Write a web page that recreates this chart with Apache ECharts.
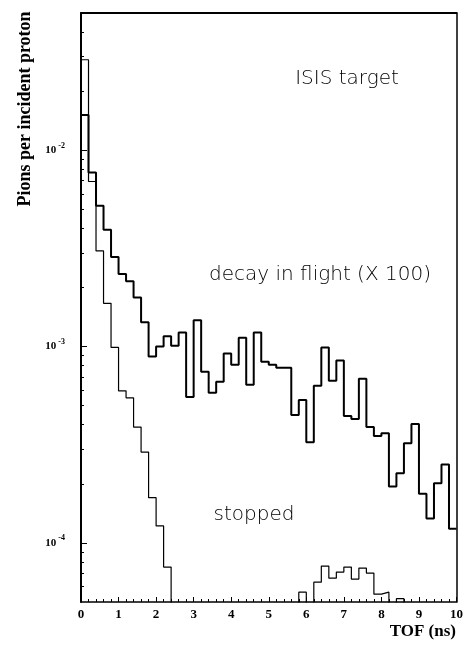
<!DOCTYPE html>
<html>
<head>
<meta charset="utf-8">
<script src="https://cdn.jsdelivr.net/npm/echarts@6/dist/echarts.min.js"></script>
<style>
  html, body { margin: 0; background: #fff; }
  #chart { width: 466px; height: 648px; }
</style>
</head>
<body>
<div id="chart"></div>
<script>
// TOF histogram, bins of 0.2 ns (left edges)
var binStart = [0, 0.2, 0.4, 0.6, 0.8, 1.0, 1.2, 1.4, 1.6, 1.8,
  2.0, 2.2, 2.4, 2.6, 2.8, 3.0, 3.2, 3.4, 3.6, 3.8,
  4.0, 4.2, 4.4, 4.6, 4.8, 5.0, 5.2, 5.4, 5.6, 5.8,
  6.0, 6.2, 6.4, 6.6, 6.8, 7.0, 7.2, 7.4, 7.6, 7.8,
  8.0, 8.2, 8.4, 8.6, 8.8, 9.0, 9.2, 9.4, 9.6, 9.8];
var tofEnd = 10;

// decay in flight (X 100)
var decayInFlight = [0.0151, 0.00771, 0.00522, 0.00394, 0.00286, 0.00234, 0.00215, 0.00178, 0.00133, 0.000889,
  0.00100, 0.00113, 0.00101, 0.00118, 0.000554, 0.00136, 0.000744, 0.000581, 0.000661, 0.000921,
  0.000809, 0.00111, 0.000639, 0.00118, 0.000838, 0.000809, 0.000781, 0.000781, 0.000448, 0.000535,
  0.000326, 0.000631, 0.000988, 0.000669, 0.000848, 0.000443, 0.000427, 0.000685, 0.000389, 0.000350,
  0.000362, 0.000194, 0.000226, 0.000322, 0.000403, 0.000178, 0.000133, 0.000201, 0.000251, 0.000118];

// stopped (0 = empty bin)
var stopped = [0.0289, 0.00693, 0.00307, 0.00166, 0.00099, 0.000595, 0.000548, 0.000389, 0.000290, 0.000170,
  0.000122, 0.0000753, 0, 0, 0, 0, 0, 0, 0, 0,
  0, 0, 0, 0, 0, 0, 0, 0, 0, 0.0000561,
  0, 0.0000631, 0.0000762, 0.0000661, 0.0000710, 0.0000753, 0.0000654, 0.0000744, 0.0000702, 0.0000548,
  0.0000561, 0, 0.000052, 0, 0, 0, 0, 0, 0, 0];

var yMin = 5e-5, yMax = 5e-2;
var majorTicks = [1e-4, 1e-3, 1e-2];
var minorTicks = [6e-5, 7e-5, 8e-5, 9e-5,
  2e-4, 3e-4, 4e-4, 5e-4, 6e-4, 7e-4, 8e-4, 9e-4,
  2e-3, 3e-3, 4e-3, 5e-3, 6e-3, 7e-3, 8e-3, 9e-3,
  2e-2, 3e-2, 4e-2];

var SERIF = '"Liberation Serif", "DejaVu Serif", serif';
var SANS = '"DejaVu Sans", sans-serif';

// step data in log10 space, empty bins pushed below the plot
function histData(vals) {
  var out = binStart.map(function (x, i) {
    return [x, Math.log10(Math.max(vals[i], 1e-6))];
  });
  out.push([tofEnd, out[out.length - 1][1]]);
  return out;
}

function note(text, x, y) {
  return {
    type: 'text', x: x, y: y,
    style: { text: text, fontFamily: SANS, fontWeight: 200, fontSize: 20,
      fill: '#000', align: 'center', verticalAlign: 'middle' }
  };
}

var chart = echarts.init(document.getElementById('chart'));

var option = {
  animation: false,
  grid: { left: 81, right: 6, top: 13, bottom: 46 },
  xAxis: [
    {
      type: 'value', min: 0, max: 10, interval: 1,
      axisLine: { lineStyle: { color: '#000', width: 1.5 } },
      axisTick: { inside: true, length: 5, lineStyle: { color: '#000' } },
      minorTick: { show: true, splitNumber: 5, length: 3, lineStyle: { color: '#000' } },
      splitLine: { show: false },
      axisLabel: { margin: 6, color: '#000', fontFamily: SERIF, fontWeight: 'bold', fontSize: 13 }
    },
    {
      type: 'value', min: 0, max: 10, position: 'top',
      axisLine: { show: true, lineStyle: { color: '#000', width: 2 } },
      axisTick: { show: false }, axisLabel: { show: false }, splitLine: { show: false }
    }
  ],
  yAxis: [
    {
      type: 'value', min: Math.log10(yMin), max: Math.log10(yMax),
      axisLine: { show: true, lineStyle: { color: '#000', width: 2 } },
      axisTick: { inside: true, length: 6, customValues: majorTicks.map(Math.log10), lineStyle: { color: '#000' } },
      axisLabel: {
        customValues: majorTicks.map(Math.log10),
        margin: 16,
        formatter: function (v) { return '{b|10}{s|' + Math.round(v) + '}'; },
        rich: {
          b: { fontFamily: SERIF, fontWeight: 'bold', fontSize: 11, color: '#000' },
          s: { fontFamily: SERIF, fontWeight: 'bold', fontSize: 8, color: '#000', padding: [0, 0, 9, 2] }
        }
      },
      splitLine: { show: false }
    },
    {
      type: 'value', min: Math.log10(yMin), max: Math.log10(yMax), position: 'left',
      axisLine: { show: false },
      axisTick: { inside: true, length: 3, customValues: minorTicks.map(Math.log10), lineStyle: { color: '#000' } },
      axisLabel: { show: false },
      splitLine: { show: false }
    },
    {
      type: 'value', min: Math.log10(yMin), max: Math.log10(yMax), position: 'right',
      axisLine: { show: true, lineStyle: { color: '#000', width: 1.5 } },
      axisTick: { show: false }, axisLabel: { show: false }, splitLine: { show: false }
    }
  ],
  series: [
    {
      name: 'decay in flight (X 100)', type: 'line', step: 'end',
      data: histData(decayInFlight), showSymbol: false, clip: true,
      lineStyle: { color: '#000', width: 2 }
    },
    {
      name: 'stopped', type: 'line', step: 'end',
      data: histData(stopped), showSymbol: false, clip: true,
      lineStyle: { color: '#000', width: 1.2 }
    }
  ],
  graphic: [
    {
      type: 'text', x: 25, y: 109, rotation: Math.PI / 2,
      style: { text: 'Pions per incident proton', fontFamily: SERIF, fontWeight: 'bold', fontSize: 18,
        fill: '#000', align: 'center', verticalAlign: 'middle' }
    },
    {
      type: 'text', x: 456, y: 632,
      style: { text: 'TOF (ns)', fontFamily: SERIF, fontWeight: 'bold', fontSize: 17,
        fill: '#000', align: 'right', verticalAlign: 'middle' }
    },
    note('ISIS target', 347, 79),
    note('decay in flight (X 100)', 320, 275),
    note('stopped', 254, 515)
  ]
};

chart.setOption(option);
</script>
</body>
</html>
